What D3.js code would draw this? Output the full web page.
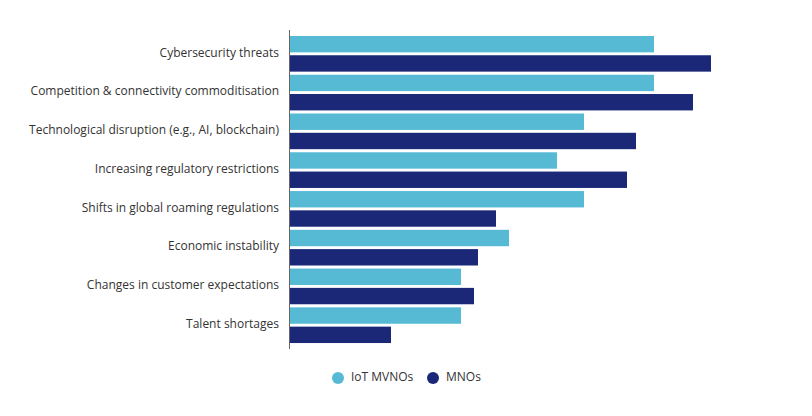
<!DOCTYPE html>
<html><head><meta charset="utf-8">
<script src="https://cdn.jsdelivr.net/npm/d3@7"></script>
<style>body{margin:0;background:#fff;font-family:"Open Sans",sans-serif;}</style>
</head><body><svg id="c" width="812" height="416"></svg>
<script>
var categories = ["Cybersecurity threats","Competition & connectivity commoditisation","Technological disruption (e.g., AI, blockchain)","Increasing regulatory restrictions","Shifts in global roaming regulations","Economic instability","Changes in customer expectations","Talent shortages"];
var seriesNames = ["IoT MVNOs","MNOs"];
var iotValues = [73,73,59,53.6,59,44,34.4,34.4];
var mnoValues = [84.4,80.8,69.4,67.6,41.4,37.8,37,20.4];
var colors = ["#56bad4","#1b2878"];

var svg = d3.select("#c");
var x = d3.scaleLinear().domain([0,100]).range([289,789]);
var y = d3.scaleBand().domain(categories).range([35,344]).paddingInner(0.03).paddingOuter(0);
var sub = d3.scaleBand().domain(seriesNames).range([0,y.bandwidth()]).paddingInner(0.15).paddingOuter(0.05);

var rows = categories.map(function(c,i){return {cat:c, vals:[iotValues[i], mnoValues[i]]};});
var g = svg.selectAll("g.row").data(rows).enter().append("g")
  .attr("transform", function(d){return "translate(0,"+y(d.cat)+")";});
g.selectAll("rect").data(function(d){return d.vals.map(function(v,i){return {v:v,s:seriesNames[i],i:i};});})
  .enter().append("rect")
  .attr("x", x(0)).attr("y", function(d){return sub(d.s);})
  .attr("width", function(d){return x(d.v)-x(0);})
  .attr("height", sub.bandwidth())
  .attr("fill", function(d){return colors[d.i];});
g.append("text").attr("x", 279).attr("y", sub("IoT MVNOs")+sub.bandwidth()+1)
  .attr("text-anchor","end").attr("dominant-baseline","middle")
  .attr("font-size",12).attr("fill","#333").text(function(d){return d.cat;});

svg.append("line").attr("x1",289.5).attr("x2",289.5).attr("y1",30).attr("y2",349)
  .attr("stroke","#666").attr("stroke-width",1);

var lg = svg.selectAll("g.lg").data(seriesNames).enter().append("g")
  .attr("transform", function(d,i){return "translate("+(338+i*95)+",378)";});
lg.append("circle").attr("r",6).attr("fill",function(d,i){return colors[i];});
lg.append("text").attr("x",13).attr("y",0).attr("dominant-baseline","middle")
  .attr("font-size",12).attr("fill","#333").text(function(d){return d;});
</script></body></html>
